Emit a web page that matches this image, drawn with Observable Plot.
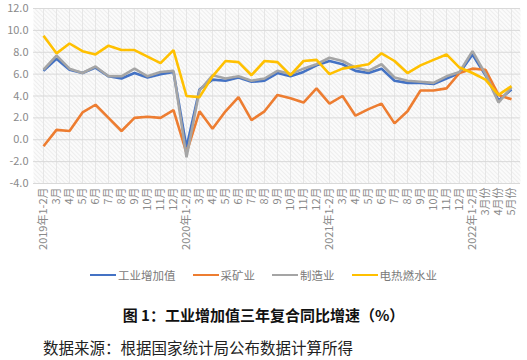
<!DOCTYPE html>
<html>
<head>
<meta charset="utf-8">
<script src="https://cdn.jsdelivr.net/npm/d3@7"></script>
<script src="https://cdn.jsdelivr.net/npm/@observablehq/plot@0.6"></script>
<style>
  body { margin:0; width:527px; height:360px; background:#fff; position:relative; font-family:"Noto Sans CJK SC", sans-serif; overflow:hidden; }
  #chart { position:absolute; left:0; top:0; }
  #chart svg { overflow: visible; }
  #legend { position:absolute; left:0; top:267px; width:527px; display:flex; justify-content:center; gap:17px; font-size:11.5px; color:#7a7a7a; line-height:16px; }
  #legend .it { display:flex; align-items:center; }
  #legend .sw { width:26px; height:2.5px; margin-right:2px; }
  #title { position:absolute; left:0; top:306px; width:527px; text-align:center; font-size:15px; font-weight:bold; color:#111; line-height:18px; }
  #source { position:absolute; left:43px; top:338px; font-size:15.5px; color:#222; line-height:18px; }
</style>
</head>
<body>
<div id="chart"></div>
<div id="legend"></div>
<div id="title">图 1：工业增加值三年复合同比增速（%）</div>
<div id="source">数据来源：根据国家统计局公布数据计算所得</div>
<script>
const labels = ["2019年1-2月","3月","4月","5月","6月","7月","8月","9月","10月","11月","12月",
  "2020年1-2月","3月","4月","5月","6月","7月","8月","9月","10月","11月","12月",
  "2021年1-2月","3月","4月","5月","6月","7月","8月","9月","10月","11月","12月",
  "2022年1-2月","3月份","4月份","5月份"];
const seriesNames = ["工业增加值","采矿业","制造业","电热燃水业"];
const seriesColors = ["#4472C4","#ED7D31","#A5A5A5","#FFC000"];
const industry = [6.3,7.4,6.4,6.1,6.6,5.8,5.6,6.1,5.7,6.0,6.2,
  -0.7,4.6,5.5,5.4,5.7,5.3,5.4,6.1,5.8,6.2,6.8,
  7.2,6.9,6.3,6.1,6.5,5.4,5.2,5.2,5.1,5.6,6.1,
  7.8,5.9,3.6,4.6];
const mining = [-0.6,0.9,0.8,2.5,3.2,2.0,0.8,2.0,2.1,2.0,2.7,
  -1.2,2.6,1.0,2.6,3.9,1.8,2.6,4.1,3.8,3.4,4.7,
  3.3,4.0,2.2,2.8,3.3,1.5,2.6,4.5,4.5,4.7,6.1,
  6.5,6.4,4.1,3.7];
const manufacturing = [6.4,7.7,6.5,6.1,6.7,5.8,5.8,6.5,5.8,6.2,6.3,
  -1.6,4.5,5.9,5.6,5.8,5.4,5.6,6.3,6.0,6.5,6.9,
  7.5,7.2,6.6,6.3,6.9,5.7,5.4,5.3,5.2,5.8,6.2,
  8.1,6.0,3.4,4.8];
const utilities = [9.5,7.9,8.8,8.1,7.8,8.6,8.2,8.2,7.6,7.0,8.2,
  4.0,3.9,5.8,7.2,7.1,5.9,7.2,7.1,5.9,7.2,7.3,
  6.0,6.5,6.7,6.9,7.9,7.2,6.1,6.8,7.3,7.8,6.6,
  6.1,5.5,4.1,4.9];
const yTicks = [-4,-2,0,2,4,6,8,10,12];

const allSeries = [industry, mining, manufacturing, utilities];
const rows = [];
allSeries.forEach((arr, s) => arr.forEach((v, i) => rows.push({i, v, s: seriesNames[s]})));

const idx = d3.range(labels.length);
const chart = Plot.plot({
  width: 527,
  height: 263,
  marginLeft: 33,
  marginRight: 7,
  marginTop: 8,
  marginBottom: 80,
  style: {fontFamily: '"Noto Sans CJK SC", sans-serif', fontSize: "11px", color: "#8a8a8a", background: "transparent", overflow: "visible"},
  x: {type: "point", domain: idx, padding: 0.6, tickFormat: i => labels[i], tickRotate: -90, tickSize: 0, tickPadding: 4, label: null},
  y: {domain: [-4, 12], ticks: yTicks, tickFormat: d => d.toFixed(1), tickSize: 0, tickPadding: 5, label: null},
  color: {domain: seriesNames, range: seriesColors},
  marks: [
    Plot.frame({fill: "url(#hatch)", stroke: null}),
    Plot.ruleX(idx, {stroke: "#e6e6e6", strokeWidth: 1}),
    Plot.ruleY(yTicks, {stroke: "#d9d9d9", strokeWidth: 1}),
    Plot.lineY(rows, {x: "i", y: "v", z: "s", stroke: "s", strokeWidth: 2.6, strokeLinejoin: "miter", strokeLinecap: "butt"})
  ]
});
d3.select(chart).insert("defs", ":first-child").html(
  '<pattern id="hatch" width="3" height="3" patternUnits="userSpaceOnUse" patternTransform="rotate(-45)">' +
  '<rect width="3" height="3" fill="#fbfbfb"/><line x1="0" y1="0" x2="0" y2="3" stroke="#e2e2e2" stroke-width="1"/></pattern>');
document.getElementById("chart").appendChild(chart);

const legend = d3.select("#legend");
seriesNames.forEach((n, k) => {
  const it = legend.append("div").attr("class", "it");
  it.append("div").attr("class", "sw").style("background", seriesColors[k]);
  it.append("span").text(n);
});
</script>
</body>
</html>
